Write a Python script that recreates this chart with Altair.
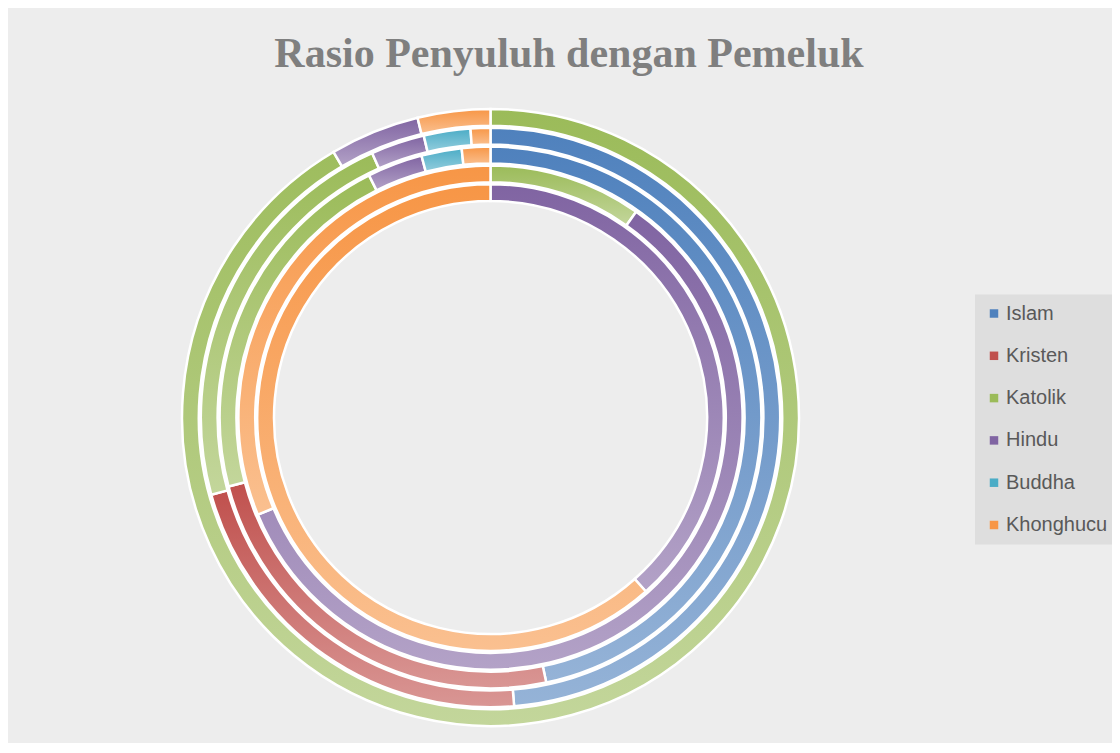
import altair as alt
import pandas as pd

# ---- data (shares of each ring, in percent; rings listed from outer to inner) ----
religions = ["Islam", "Kristen", "Katolik", "Hindu", "Buddha", "Khonghucu"]
rings = ["Seri 1", "Seri 2", "Seri 3", "Seri 4", "Seri 5"]
ring1 = [0.0, 0.0, 91.5, 4.7, 0.0, 3.8]
ring2 = [48.7, 22.0, 22.6, 3.0, 2.6, 1.1]
ring3 = [46.7, 24.2, 21.7, 3.3, 2.4, 1.7]
ring4 = [0.0, 0.0, 9.8, 58.9, 0.0, 31.3]
ring5 = [0.0, 0.0, 0.0, 38.4, 0.0, 61.6]

base_colors = ["#4F81BD", "#C0504D", "#9BBB59", "#8064A2", "#4BACC6", "#F79646"]
light_colors = ["#95B3D7", "#D99694", "#C3D69B", "#B3A2C7", "#93CDDD", "#FAC090"]

ring_values = [ring1, ring2, ring3, ring4, ring5]
rows = []
for k, (name, vals) in enumerate(zip(rings, ring_values)):
    cum = 0.0
    for rel, v in zip(religions, vals):
        if v > 0:
            rows.append({"ring": name, "ring_idx": k, "religion": rel,
                         "value": v, "start": cum, "end": cum + v})
        cum += v
df = pd.DataFrame(rows)

theta_scale = alt.Scale(domain=[0, 100], range=[0, 6.283185307179586])
r_scale = alt.Scale(type="linear", domain=[0, 5], range=[308.5, 214.5])

base = alt.Chart(df).transform_calculate(r_in="datum.ring_idx + 0.894")

enc = dict(
    theta=alt.Theta("start:Q", scale=theta_scale, stack=None),
    theta2="end:Q",
    radius=alt.Radius("ring_idx:Q", scale=r_scale),
    radius2="r_in:Q",
)

layers = []
for i, rel in enumerate(religions):
    grad = alt.Gradient(
        gradient="linear",
        stops=[alt.GradientStop(color=base_colors[i], offset=0),
               alt.GradientStop(color=light_colors[i], offset=1)],
        x1=0, y1=0, x2=0, y2=1,
    )
    layers.append(
        base.transform_filter(alt.datum.religion == rel)
        .mark_arc(fill=grad, stroke="white", strokeWidth=2.5)
        .encode(**enc)
    )

legend_layer = base.mark_arc(opacity=0).encode(
    color=alt.Color(
        "religion:N",
        scale=alt.Scale(domain=religions, range=base_colors),
        sort=religions,
        legend=alt.Legend(
            title=None, orient="none", legendX=967, legendY=202,
            symbolType="square", symbolSize=72, symbolStrokeWidth=0,
            symbolOpacity=1,
            labelFont="Liberation Sans", labelFontSize=20, labelColor="#595959",
            labelOffset=2, rowPadding=22.3, padding=9,
            fillColor="#dedede", labelLimit=200,
        ),
    ),
    **enc,
)

chart = alt.layer(*layers, legend_layer).properties(
    width=965,
    height=650,
    title=alt.TitleParams(
        "Rasio Penyuluh dengan Pemeluk",
        font="Liberation Serif", fontSize=42, fontWeight="bold",
        color="#7F7F7F", anchor="middle", dx=78.5, offset=17,
    ),
    autosize=alt.AutoSizeParams(type="none"),
    padding={"left": 0, "top": 84.5, "right": 139, "bottom": 0},
    background="#ededed",
).configure_view(stroke=None)

chart.save("out.html", embed_options={"renderer": "svg", "actions": False})
